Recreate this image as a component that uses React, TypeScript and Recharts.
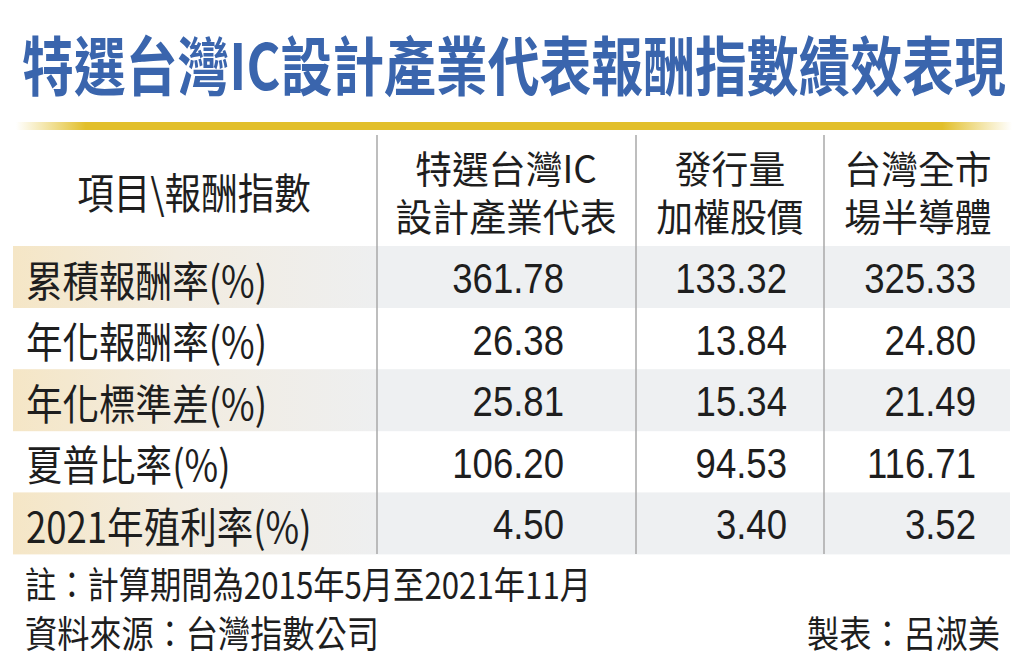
import { BarChart, Bar, XAxis, YAxis } from "recharts";

const items = [
  "累積報酬率(%)",
  "年化報酬率(%)",
  "年化標準差(%)",
  "夏普比率(%)",
  "2021年殖利率(%)",
];
const icDesign = [361.78, 26.38, 25.81, 106.2, 4.5];
const issueWeighted = [133.32, 13.84, 15.34, 94.53, 3.4];
const semiconductor = [325.33, 24.8, 21.49, 116.71, 3.52];

const columnHeads = [
  ["特選台灣IC", "設計產業代表"],
  ["發行量", "加權股價"],
  ["台灣全市", "場半導體"],
];

const rows = items.map((item, i) => ({
  item,
  ic: icDesign[i],
  issue: issueWeighted[i],
  semi: semiconductor[i],
}));

const CJK = '"Noto Sans CJK TC", "Noto Sans CJK SC", sans-serif';
const NUM = '"Liberation Sans", Arial, sans-serif';
const INK = "#1e1e1e";

// column edges of the table
const dividers = [377, 636, 824];
const numRight = [564, 787, 976];
const headCenter = [506, 730, 918];

function SqText({ x, y, anchor = "start", size = 42, sq = 0.87, family = CJK, children }: any) {
  return (
    <text
      transform={`translate(${x} ${y}) scale(${sq} 1)`}
      textAnchor={anchor}
      dominantBaseline="central"
      fontSize={size}
      fontFamily={family}
      fill={INK}
    >
      {children}
    </text>
  );
}

function Stripe(props: any) {
  const { x, y, width, height, index } = props;
  if (index % 2 !== 0) return <g />;
  return (
    <g>
      <rect x={x} y={y} width={dividers[0] - x} height={height} fill="url(#labelShade)" />
      <rect
        x={dividers[0]}
        y={y}
        width={x + width - dividers[0]}
        height={height}
        fill="#eef0f2"
      />
    </g>
  );
}

function RowText(props: any) {
  const { y, height, payload } = props;
  const cy = y + height / 2 + 1;
  const vals = [payload.ic, payload.issue, payload.semi];
  return (
    <g>
      <SqText x={26} y={cy}>
        {payload.item}
      </SqText>
      {vals.map((v: number, i: number) => (
        <SqText key={i} x={numRight[i]} y={cy} anchor="end" family={NUM}>
          {v.toFixed(2)}
        </SqText>
      ))}
    </g>
  );
}

export default function App() {
  return (
    <div
      style={{
        position: "absolute",
        left: 0,
        top: 0,
        width: 1024,
        height: 668,
        background: "#fff",
        overflow: "hidden",
      }}
    >
      <BarChart
        layout="vertical"
        width={1024}
        height={668}
        data={rows}
        margin={{ top: 246, right: 14, bottom: 114, left: 13 }}
        barCategoryGap={0}
      >
        <defs>
          <linearGradient id="labelShade" x1="0" y1="0" x2="1" y2="0">
            <stop offset="0" stopColor="#f5e6c6" />
            <stop offset="0.45" stopColor="#f2ece0" />
            <stop offset="1" stopColor="#eeeff0" />
          </linearGradient>
        </defs>
        <XAxis type="number" hide domain={[0, 400]} />
        <YAxis type="category" dataKey="item" hide />
        <Bar
          dataKey="ic"
          fill="none"
          background={Stripe}
          shape={RowText}
          isAnimationActive={false}
        />
      </BarChart>

      <svg
        width={1024}
        height={668}
        style={{ position: "absolute", left: 0, top: 0, pointerEvents: "none" }}
      >
        <defs>
          <linearGradient id="goldRule" x1="0" y1="0" x2="1" y2="0">
            <stop offset="0" stopColor="#e4c43a" stopOpacity="0" />
            <stop offset="0.07" stopColor="#e2bf2a" />
            <stop offset="0.93" stopColor="#e2bf2a" />
            <stop offset="1" stopColor="#e4c43a" stopOpacity="0" />
          </linearGradient>
        </defs>

        <text
          transform="translate(22 62) scale(0.81 1)"
          dominantBaseline="central"
          fontSize={64}
          fontWeight={700}
          fontFamily={CJK}
          fill="#3a65ad"
        >
          特選台灣IC設計產業代表報酬指數績效表現
        </text>

        <rect x={16} y={122} width={996} height={8} fill="url(#goldRule)" />

        <SqText x={194} y={190} anchor="middle">
          項目\報酬指數
        </SqText>
        {columnHeads.map((lines, i) => (
          <text
            key={i}
            transform={`translate(${headCenter[i]} 191) scale(0.97 1)`}
            textAnchor="middle"
            dominantBaseline="central"
            fontSize={38}
            fontFamily={CJK}
            fill={INK}
          >
            <tspan x={0} y={-24}>
              {lines[0]}
            </tspan>
            <tspan x={0} y={24}>
              {lines[1]}
            </tspan>
          </text>
        ))}

        {dividers.map((d) => (
          <line key={d} x1={d} x2={d} y1={135} y2={554} stroke="#a8a8a8" strokeWidth={1.5} />
        ))}

        <SqText x={25} y={583} size={37} sq={0.845}>
          註：計算期間為2015年5月至2021年11月
        </SqText>
        <SqText x={25} y={632} size={37} sq={0.87}>
          資料來源：台灣指數公司
        </SqText>
        <SqText x={1000} y={632} anchor="end" size={37} sq={0.87}>
          製表：呂淑美
        </SqText>
      </svg>
    </div>
  );
}
